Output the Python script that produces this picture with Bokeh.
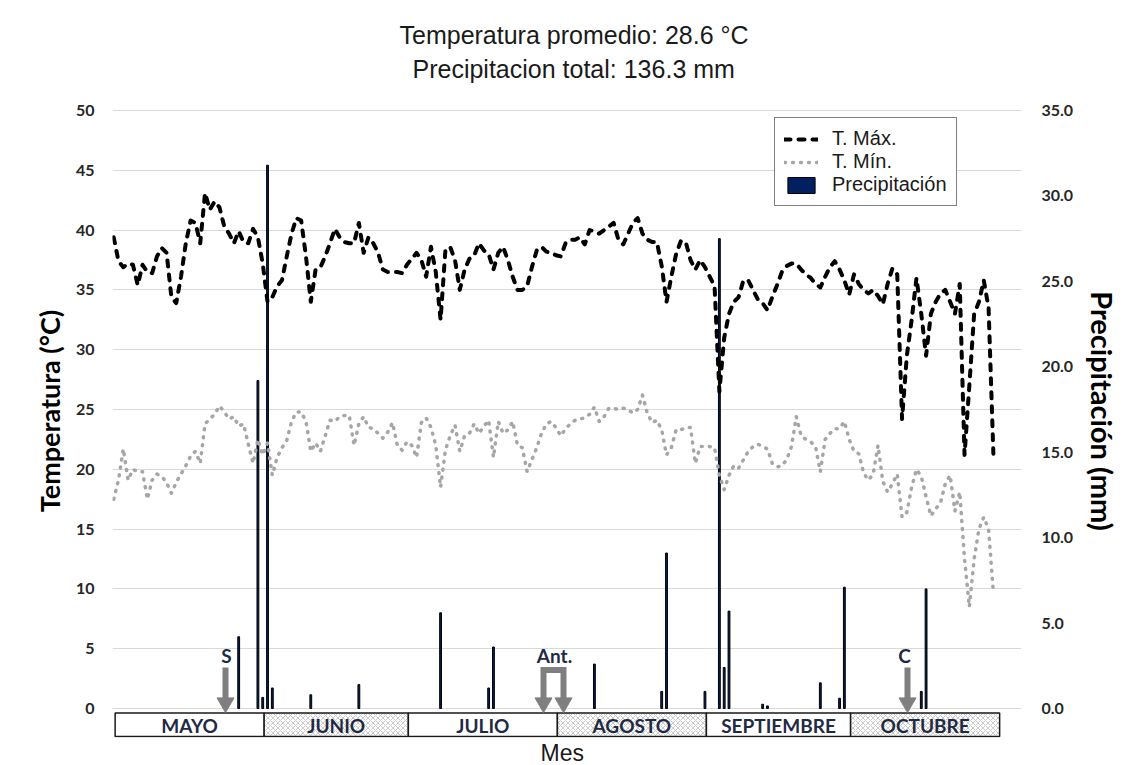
from bokeh.plotting import figure
from bokeh.models import (Range1d, LinearAxis, FixedTicker, PrintfTickFormatter, Title,
                          Legend, LegendItem, ColumnDataSource)
from bokeh.embed import file_html
from bokeh.resources import INLINE
from bokeh.core.properties import value

# ---------------- data ----------------
months = ["MAYO", "JUNIO", "JULIO", "AGOSTO", "SEPTIEMBRE", "OCTUBRE"]
month_days = [31, 30, 31, 31, 30, 31]

t_max = [39.4, 37.4, 36.9, 37.2, 37.1, 35.4, 37.1, 36.5, 36.4, 37.8,
         38.5, 38.1, 34.4, 33.9, 36.1, 38.9, 40.8, 40.6, 38.9, 43.1,
         41.7, 42.4, 41.9, 40.3, 39.7, 38.9, 39.9, 39.0, 38.9, 40.1,
         39.4, 37.2, 34.0, 34.4, 35.3, 35.8, 37.8, 39.7, 41.0, 40.8,
         37.8, 34.0, 36.7, 36.9, 37.8, 38.9, 40.1, 39.4, 39.0, 38.9,
         38.9, 40.6, 38.1, 39.4, 38.9, 38.1, 36.7, 36.5, 36.5, 36.5,
         36.4, 37.1, 37.6, 38.1, 37.5, 36.1, 38.6, 36.5, 32.5, 38.3,
         38.6, 37.5, 35.0, 36.7, 37.6, 37.9, 38.9, 38.3, 38.0, 36.7,
         38.1, 38.6, 37.5, 36.1, 35.0, 35.0, 35.3, 36.9, 38.3, 38.6,
         38.2, 38.1, 37.9, 37.8, 38.9, 39.2, 39.2, 39.4, 38.8, 40.0,
         39.9, 39.7, 40.0, 40.3, 40.6, 39.2, 38.8, 39.7, 40.6, 41.0,
         39.7, 39.2, 39.0, 39.0, 37.0, 34.0, 36.1, 38.0, 39.1, 39.0,
         37.5, 36.7, 37.5, 36.9, 36.1, 35.3, 26.5, 31.0, 33.0, 34.0,
         34.4, 35.8, 35.8, 35.0, 34.2, 33.9, 33.3, 34.4, 35.4, 36.5,
         37.0, 37.2, 37.2, 36.7, 36.3, 36.0, 35.5, 35.2, 36.1, 36.9,
         37.4, 36.7, 35.8, 34.6, 36.3, 35.5, 35.0, 34.7, 35.0, 34.5,
         33.8, 35.5, 36.8, 36.3, 24.2, 29.5, 32.5, 36.0, 33.0, 29.5,
         33.0, 34.0, 34.7, 35.0, 34.0, 33.0, 35.5, 21.2, 27.0, 33.0,
         34.0, 35.8, 33.5, 21.3]

t_min = [17.5, 19.1, 21.7, 19.1, 20.0, 19.8, 19.8, 17.5, 19.1, 19.6,
         19.4, 18.9, 18.0, 18.9, 19.6, 20.3, 21.1, 21.5, 20.5, 23.8,
         24.2, 24.6, 25.3, 24.8, 24.2, 24.4, 23.6, 23.8, 22.1, 20.5,
         22.5, 21.2, 22.2, 19.5, 21.0, 21.8, 22.4, 24.0, 24.8, 24.8,
         24.0, 21.5, 22.2, 21.5, 22.8, 24.1, 24.0, 24.4, 24.5, 24.5,
         22.0, 23.8, 24.4, 23.5, 23.4, 23.0, 22.6, 23.1, 23.9, 22.0,
         21.6, 22.3, 22.0, 21.0, 23.9, 24.3, 23.5, 22.0, 18.5, 21.6,
         22.8, 23.7, 21.5, 22.8, 23.0, 23.8, 23.0, 23.6, 24.1, 21.0,
         24.0, 23.0, 23.3, 24.0, 22.0, 21.8, 19.8, 20.8, 21.8, 23.0,
         23.8, 24.0, 23.5, 22.8, 23.4, 23.8, 24.1, 24.2, 24.3, 24.6,
         25.2, 24.0, 24.4, 25.1, 25.1, 25.0, 25.1, 25.0, 24.7, 25.0,
         26.2, 24.7, 23.9, 24.1, 23.3, 21.2, 21.8, 23.3, 23.3, 23.5,
         23.5, 20.5, 21.9, 21.9, 21.9, 21.8, 19.5, 18.3, 19.5, 20.3,
         20.1, 20.8, 21.5, 21.9, 22.1, 21.9, 21.7, 20.5, 20.2, 20.3,
         20.8, 21.9, 24.4, 22.8, 22.5, 22.3, 21.9, 19.8, 22.5, 23.0,
         23.4, 23.4, 24.0, 22.5, 21.5, 21.3, 19.7, 19.1, 19.6, 22.0,
         19.0, 18.1, 18.8, 19.6, 16.0, 16.4, 18.5, 20.0, 19.4, 17.7,
         16.1, 16.7, 17.2, 18.8, 19.5, 16.5, 18.1, 12.5, 8.5, 12.5,
         15.0, 16.0, 15.0, 9.7]

rain_day = [26, 30, 31, 32, 33, 41, 51, 68, 78, 79, 100, 114, 115, 123,
            126, 127, 128, 135, 136, 147, 151, 152, 168, 169]
rain_mm = [4.2, 19.2, 0.65, 31.8, 1.2, 0.8, 1.4, 5.6, 1.2, 3.6, 2.6, 1.0, 9.1, 1.0,
           27.5, 2.4, 5.7, 0.25, 0.15, 1.5, 0.6, 7.1, 1.0, 7.0]

temp_ticks = [0, 5, 10, 15, 20, 25, 30, 35, 40, 45, 50]
rain_ticks = [0, 5, 10, 15, 20, 25, 30, 35]

title_lines = ["Temperatura promedio: 28.6 °C", "Precipitacion total: 136.3 mm"]
events = ["S", "Ant.", "C"]

# ---------------- layout helpers (page pixel -> data) ----------------
PX_PER_DEG = 11.96      # px per degree C
PX_PER_DAY = 4.807
X0_PX = 113.2           # page px of day 0
Y0_PX = 708.0           # page px of 0 degrees
FRAME_L, FRAME_R, FRAME_T, FRAME_B = 112, 1021, 84, 737
W, H = 1135, 765


def dx(px):
    return (px - X0_PX) / PX_PER_DAY


def ty(py):
    return (Y0_PX - py) / PX_PER_DEG


RAIN_RATIO = 35.0 / 50.0
days = list(range(len(t_max)))

p = figure(width=W, height=H, output_backend="svg", toolbar_location=None,
           x_range=Range1d(dx(FRAME_L), dx(FRAME_R)),
           y_range=Range1d(ty(FRAME_B), ty(FRAME_T)),
           min_border_left=FRAME_L, min_border_right=W - FRAME_R,
           min_border_top=FRAME_T, min_border_bottom=H - FRAME_B)
p.outline_line_color = None
p.background_fill_color = "white"
p.border_fill_color = "white"
p.title.visible = False
p.xaxis.visible = False
p.xgrid.visible = False

lab_font = "Lato"
tick_color = "#262626"


def style_axis(ax, standoff, label, label_size, label_standoff):
    ax.axis_line_color = None
    ax.major_tick_line_color = None
    ax.minor_tick_line_color = None
    ax.major_tick_out = 0
    ax.major_tick_in = 0
    ax.minor_tick_out = 0
    ax.major_label_text_font = lab_font
    ax.major_label_text_font_style = "bold"
    ax.major_label_text_font_size = "16px"
    ax.major_label_text_color = tick_color
    ax.major_label_standoff = standoff
    ax.axis_label = label
    ax.axis_label_text_font = lab_font
    ax.axis_label_text_font_style = "bold"
    ax.axis_label_text_font_size = label_size
    ax.axis_label_text_color = "black"
    ax.axis_label_standoff = label_standoff


ax_l = p.yaxis[0]
ax_l.ticker = FixedTicker(ticks=temp_ticks)
style_axis(ax_l, 18, "Temperatura (°C)", "27px", 7)

p.ygrid.grid_line_color = "#d9d9d9"
p.ygrid.grid_line_width = 1

p.extra_y_ranges = {"rain": Range1d(ty(FRAME_B) * RAIN_RATIO, ty(FRAME_T) * RAIN_RATIO)}
ax_r = LinearAxis(y_range_name="rain", ticker=FixedTicker(ticks=rain_ticks),
                  formatter=PrintfTickFormatter(format="%.1f"))
style_axis(ax_r, 20, "Precipitación (mm)", "29px", 9)
p.add_layout(ax_r, "right")

# ---------------- titles ----------------
p.add_layout(Title(text=title_lines[1], align="left", offset=412 - FRAME_L, standoff=3,
                   text_font="Liberation Sans", text_font_size="25px",
                   text_font_style="normal", text_color="#1a1a1a"), "above")
p.add_layout(Title(text=title_lines[0], align="left", offset=399 - FRAME_L, standoff=5,
                   text_font="Liberation Sans", text_font_size="25px",
                   text_font_style="normal", text_color="#1a1a1a"), "above")
p.add_layout(Title(text="Mes", align="left", offset=540 - FRAME_L, standoff=0,
                   text_font="Liberation Sans", text_font_size="23px",
                   text_font_style="normal", text_color="#1a1a1a"), "below")

# ---------------- month boxes ----------------
bounds = [0]
for m in month_days:
    bounds.append(bounds[-1] + m)
mb = ColumnDataSource(dict(
    left=[b + 0.3 for b in bounds[:-1]],
    right=[b + 0.3 for b in bounds[1:]],
    mid=[(a + b) / 2 + 0.3 for a, b in zip(bounds[:-1], bounds[1:])],
    name=months,
    hatch=["blank", "diagonal_cross"] * 3,
))
p.quad(left="left", right="right", bottom=ty(736), top=ty(712.5), source=mb,
       fill_color="white", line_color="#1a1a1a", line_width=1.5,
       hatch_pattern="hatch", hatch_color="#b5b5b5", hatch_scale=5, hatch_weight=0.7)
p.text(x="mid", y=ty(725), text="name", source=mb, text_align="center",
       text_baseline="middle", text_font=value(lab_font), text_font_style="bold",
       text_font_size="19px", text_color="#1f2a44")

# ---------------- series ----------------
rain_src = ColumnDataSource(dict(day=rain_day, mm=rain_mm))
r_bar = p.vbar(x="day", top="mm", bottom=0, width=0.38, source=rain_src,
               y_range_name="rain", fill_color="#002060", line_color="black",
               line_width=1)

src = ColumnDataSource(dict(day=days, tmax=t_max, tmin=t_min))
r_min = p.line("day", "tmin", source=src, line_color="#a6a6a6", line_width=3.5,
               line_dash="1 7", line_cap="round", line_join="round")
r_max = p.line("day", "tmax", source=src, line_color="black", line_width=4,
               line_dash="6 8", line_cap="round", line_join="round")

# ---------------- event arrows ----------------
ARROW = "#7f7f7f"
s_x, a_l, a_r, c_x = dx(225), dx(543), dx(563), dx(907)
p.segment(x0=[s_x, c_x], y0=[ty(667), ty(667)], x1=[s_x, c_x], y1=[ty(700), ty(700)],
          line_color=ARROW, line_width=6)
p.line(x=[a_l, a_l, a_r, a_r], y=[ty(700), ty(669.5), ty(669.5), ty(700)],
       line_color=ARROW, line_width=6, line_join="miter")
p.scatter(x=[s_x, a_l, a_r, c_x], y=[ty(702.3)] * 4, marker="inverted_triangle",
          size=17, fill_color=ARROW, line_color=ARROW)
p.text(x=[dx(226), dx(554), dx(904)], y=[ty(655)] * 3, text=events,
       text_align="center", text_baseline="middle", text_font=value(lab_font),
       text_font_style="bold", text_font_size="19px", text_color="#1f2a44")

# ---------------- legend ----------------
legend = Legend(items=[LegendItem(label="T. Máx.", renderers=[r_max]),
                       LegendItem(label="T. Mín.", renderers=[r_min]),
                       LegendItem(label="Precipitación", renderers=[r_bar])],
                location=(774 - FRAME_L, FRAME_B - 206), orientation="vertical",
                border_line_color="black", border_line_width=1.5,
                background_fill_color="white", background_fill_alpha=1,
                label_text_font="Liberation Sans", label_text_font_size="20px",
                label_text_color="#1a1a1a", glyph_width=34, glyph_height=20,
                label_height=20, spacing=0, padding=9, label_standoff=14, margin=0)
p.add_layout(legend)

open("out.html", "w").write(file_html(p, INLINE))
